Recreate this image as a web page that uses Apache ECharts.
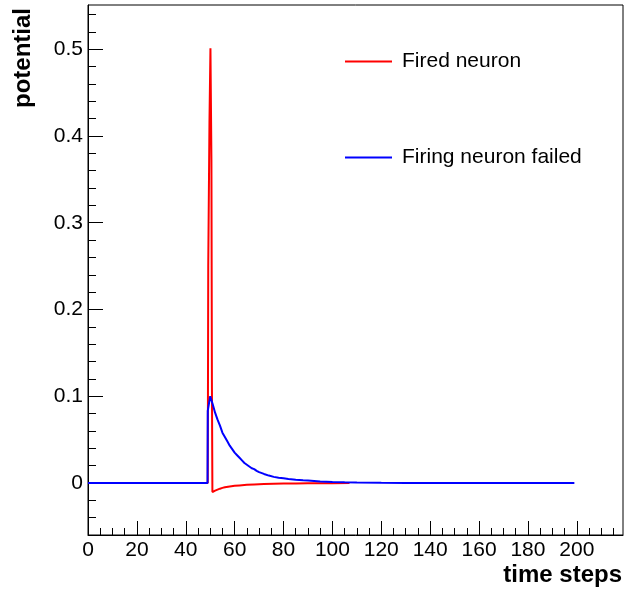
<!DOCTYPE html>
<html>
<head>
<meta charset="utf-8">
<script src="https://cdn.jsdelivr.net/npm/echarts@6/dist/echarts.min.js"></script>
<style>
html,body{margin:0;padding:0;background:#fff;}
#chart{width:624px;height:592px;}
</style>
</head>
<body>
<div id="chart"></div>
<script>
// ---- data ----
const seriesNames = ['Fired neuron', 'Firing neuron failed'];

const firedT = [0, 49.0, 49.2, 49.7, 50.1, 50.5, 50.7, 50.9, 52, 53, 54, 55, 56, 58, 60, 62, 65, 68, 72, 76, 80, 85, 90, 95, 100, 107];
const firedV = [0, 0, 0.251, 0.416, 0.501, 0.372, 0.116, -0.0105, -0.0088, -0.0077, -0.0066, -0.0057, -0.0050, -0.0040, -0.0033, -0.0028, -0.0022, -0.0017, -0.0012, -0.0009, -0.0007, -0.0005, -0.0004, -0.0003, -0.0002, -0.0001];

const failedT = [0, 48.9, 49, 50, 51, 52, 53, 54, 55, 56, 57, 58, 59, 60, 61, 62, 63, 64, 65, 66, 67, 68, 69, 70, 72, 74, 76, 78, 80, 82, 85, 88, 90, 95, 100, 105, 110, 120, 130, 199];
const failedV = [0, 0, 0.083, 0.100, 0.091, 0.081, 0.073, 0.066, 0.058, 0.053, 0.048, 0.043, 0.039, 0.035, 0.032, 0.029, 0.026, 0.023, 0.021, 0.019, 0.017, 0.016, 0.014, 0.0125, 0.0104, 0.0085, 0.0070, 0.0060, 0.0053, 0.0045, 0.0036, 0.0030, 0.0027, 0.0018, 0.0012, 0.0008, 0.0005, 0.0002, 0, 0];

const xTickLabels = [0, 20, 40, 60, 80, 100, 120, 140, 160, 180, 200];
const yTickLabels = [0, 0.1, 0.2, 0.3, 0.4, 0.5];

const xRange = [0, 218.9];
const yRange = [-0.06, 0.551];

// minor tick positions (style only)
const xMinor = [];
for (let v = 5; v < xRange[1]; v += 5) xMinor.push(v);
const yMinor = [];
for (let k = -3; k <= 27; k++) yMinor.push(Math.round(k * 0.02 * 1000) / 1000);

const FONT = 'Liberation Sans, Arial, Helvetica, sans-serif';

function pairs(t, v) { return t.map((x, i) => [x, v[i]]); }

const chart = echarts.init(document.getElementById('chart'), null, {renderer: 'canvas'});

const baseAxisX = {
  type: 'value', min: xRange[0], max: xRange[1], position: 'bottom',
  splitLine: {show: false}
};
const baseAxisY = {
  type: 'value', min: yRange[0], max: yRange[1], position: 'left',
  splitLine: {show: false}
};

chart.setOption({
  animation: false,
  backgroundColor: '#fff',
  grid: {left: 88, right: 1, top: 5, bottom: 57, show: true, borderColor: '#000', borderWidth: 1, backgroundColor: 'transparent'},
  legend: {
    data: seriesNames,
    orient: 'vertical',
    left: 340, top: 46,
    itemWidth: 47, itemHeight: 2, itemGap: 75,
    icon: 'rect',
    textStyle: {fontFamily: FONT, fontSize: 21, color: '#000', padding: [0, 0, 0, 5]}
  },
  xAxis: [
    Object.assign({}, baseAxisX, {
      axisLine: {show: true, onZero: false, lineStyle: {color: '#000', width: 1}},
      axisTick: {show: true, inside: true, length: 14, customValues: xTickLabels, lineStyle: {color: '#000'}},
      axisLabel: {show: true, customValues: xTickLabels, fontFamily: FONT, fontSize: 21, color: '#000', margin: 5}
    }),
    Object.assign({}, baseAxisX, {
      axisLine: {show: false, onZero: false},
      axisTick: {show: true, inside: true, length: 7, customValues: xMinor, lineStyle: {color: '#000'}},
      axisLabel: {show: false}
    })
  ],
  yAxis: [
    Object.assign({}, baseAxisY, {
      axisLine: {show: true, onZero: false, lineStyle: {color: '#000', width: 1}},
      axisTick: {show: true, inside: true, length: 15, customValues: yTickLabels, lineStyle: {color: '#000'}},
      axisLabel: {show: true, customValues: yTickLabels, fontFamily: FONT, fontSize: 21, color: '#000', margin: 5,
        formatter: v => String(v)}
    }),
    Object.assign({}, baseAxisY, {
      axisLine: {show: false, onZero: false},
      axisTick: {show: true, inside: true, length: 8, customValues: yMinor, lineStyle: {color: '#000'}},
      axisLabel: {show: false}
    })
  ],
  series: [
    {
      name: seriesNames[0], type: 'line', xAxisIndex: 0, yAxisIndex: 0,
      data: pairs(firedT, firedV), showSymbol: false, symbol: 'none',
      lineStyle: {color: '#ff0000', width: 2}, itemStyle: {color: '#ff0000'}
    },
    {
      name: seriesNames[1], type: 'line', xAxisIndex: 0, yAxisIndex: 0,
      data: pairs(failedT, failedV), showSymbol: false, symbol: 'none',
      lineStyle: {color: '#0000ff', width: 2}, itemStyle: {color: '#0000ff'}
    }
  ],
  graphic: [
    {type: 'text', right: 2, top: 563, style: {text: 'time steps', font: 'bold 24px ' + FONT, fill: '#000'}},
    {type: 'text', x: 11, y: 8, rotation: Math.PI / 2,
      style: {text: 'potential', font: 'bold 24px ' + FONT, fill: '#000', align: 'right', verticalAlign: 'top'}}
  ]
});
</script>
</body>
</html>
